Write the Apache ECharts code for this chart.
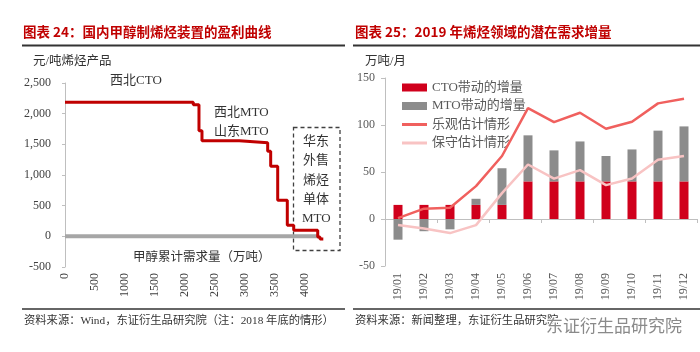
<!DOCTYPE html>
<html>
<head>
<meta charset="utf-8">
<script src="https://cdn.jsdelivr.net/npm/echarts@6/dist/echarts.min.js"></script>
<style>
  html, body { margin: 0; padding: 0; background: #fff; }
  #chart { width: 700px; height: 352px; }
</style>
</head>
<body>
<div id="chart"></div>
<script>
// 左图：甲醇制烯烃盈利曲线（累计需求量 万吨, 盈利 元/吨）
const capacityX = [0, 2138, 2233, 2283, 2905, 3378, 3428, 3545, 3705, 3812, 4212, 4250, 4305];
const profitY = [2185, 2145, 1720, 1557, 1525, 1389, 1144, 588, 180, 98, -11, -44, -44];
const breakEvenX = [0, 4215];

// 右图：2019 年潜在需求增量（万吨/月）
const months = ['19/01', '19/02', '19/03', '19/04', '19/05', '19/06', '19/07', '19/08', '19/09', '19/10', '19/11', '19/12'];
const ctoInc = [15, 15, 15, 15, 15, 40, 40, 40, 40, 40, 40, 40];
const mtoInc = [-22, -13, -11, 6.5, 39, 49, 33, 42.5, 27, 34, 54, 58.5];
const optimistic = [1, 11, 12, 35, 67, 118, 103, 113, 96, 103.5, 123, 128];
const conservative = [-6.5, -10, -15, -6.5, 27.5, 58, 43, 52, 36, 43, 63, 67];

const serif = "'Liberation Serif', 'Noto Sans CJK SC'";
const cjk = "'Noto Sans CJK SC'";
const labelColor = '#404040';
const axisGray = '#bfbfbf';

const chart = echarts.init(document.getElementById('chart'));

function txt(x, y, text, size, extra) {
    return Object.assign({
        type: 'text', left: x, top: y,
        style: { text: text, font: size + 'px ' + serif, fill: '#333' }
    }, extra || {});
}

const option = {
    animation: false,
    grid: [
        { left: 65, top: 83, width: 270, height: 184 },
        { left: 385, top: 78, right: 3, height: 188 }
    ],
    legend: {
        orient: 'vertical',
        left: 397, top: 76,
        itemWidth: 25, itemHeight: 8, itemGap: 5.5,
        textStyle: { fontFamily: serif, fontSize: 13, color: '#595959' },
        data: [
            { name: 'CTO带动的增量', icon: 'rect' },
            { name: 'MTO带动的增量', icon: 'rect' },
            { name: '乐观估计情形', icon: 'path://M0,0H10V1.2H0Z' },
            { name: '保守估计情形', icon: 'path://M0,0H10V1.2H0Z' }
        ]
    },
    xAxis: [
        {
            gridIndex: 0, type: 'value', min: 0, max: 4500, interval: 500,
            position: 'bottom',
            axisLine: { show: false, onZero: false }, axisTick: { show: false }, splitLine: { show: false },
            axisLabel: {
                rotate: 90, margin: 6, fontFamily: serif, fontSize: 12, color: labelColor,
                formatter: v => (v > 4000 ? '' : String(v))
            }
        },
        {
            gridIndex: 1, type: 'category', data: months, position: 'bottom',
            axisLine: { show: false, onZero: false }, axisTick: { show: false },
            axisLabel: { rotate: 90, margin: 7, fontFamily: serif, fontSize: 12, color: '#595959' }
        },
        {
            gridIndex: 1, type: 'category', data: months, position: 'top',
            axisLine: { show: true, onZero: true, lineStyle: { color: axisGray } },
            axisTick: { show: true, inside: true, length: 4, lineStyle: { color: axisGray } },
            axisLabel: { show: false }
        }
    ],
    yAxis: [
        {
            gridIndex: 0, type: 'value', min: -500, max: 2500, interval: 500,
            axisLine: { show: true, lineStyle: { color: axisGray } },
            axisTick: { show: true, length: 3, lineStyle: { color: axisGray } },
            splitLine: { show: false },
            axisLabel: {
                margin: 14, fontFamily: serif, fontSize: 12, color: labelColor,
                formatter: v => v.toLocaleString('en-US')
            }
        },
        {
            gridIndex: 1, type: 'value', min: -50, max: 150, interval: 50,
            axisLine: { show: true, lineStyle: { color: axisGray } },
            axisTick: { show: true, length: 4, lineStyle: { color: axisGray } },
            splitLine: { show: false },
            axisLabel: { margin: 10, fontFamily: serif, fontSize: 12, color: '#595959' }
        }
    ],
    series: [
        {
            name: '盈亏平衡', type: 'line', xAxisIndex: 0, yAxisIndex: 0,
            data: breakEvenX.map(x => [x, 0]),
            symbol: 'none', lineStyle: { color: '#a6a6a6', width: 4 }, z: 1
        },
        {
            name: '盈利曲线', type: 'line', xAxisIndex: 0, yAxisIndex: 0,
            data: capacityX.map((x, i) => [x, profitY[i]]),
            step: 'end', symbol: 'none', lineStyle: { color: '#c00000', width: 3 }, z: 3
        },
        {
            name: 'CTO带动的增量', type: 'bar', xAxisIndex: 1, yAxisIndex: 1, stack: 'inc',
            data: ctoInc, barWidth: 9, itemStyle: { color: '#d0001c' }
        },
        {
            name: 'MTO带动的增量', type: 'bar', xAxisIndex: 1, yAxisIndex: 1, stack: 'inc',
            data: mtoInc, barWidth: 9, itemStyle: { color: '#8c8c8c' }
        },
        {
            name: '乐观估计情形', type: 'line', xAxisIndex: 1, yAxisIndex: 1,
            data: optimistic, symbol: 'none',
            lineStyle: { color: '#f0605e', width: 2.5 }, itemStyle: { color: '#f0605e' }, z: 4
        },
        {
            name: '保守估计情形', type: 'line', xAxisIndex: 1, yAxisIndex: 1,
            data: conservative, symbol: 'none',
            lineStyle: { color: '#f8c3c3', width: 2.5 }, itemStyle: { color: '#f8c3c3' }, z: 4
        }
    ],
    graphic: [
        // 标题
        { type: 'text', left: 23, top: 25, style: { text: '图表 24：国内甲醇制烯烃装置的盈利曲线', font: 'bold 13.5px ' + cjk, fill: '#c00000' } },
        { type: 'text', left: 355, top: 25, style: { text: '图表 25：2019 年烯烃领域的潜在需求增量', font: 'bold 13.5px ' + cjk, fill: '#c00000' } },
        { type: 'line', shape: { x1: 22, y1: 45.5, x2: 345, y2: 45.5 }, style: { stroke: '#333', lineWidth: 2 } },
        { type: 'line', shape: { x1: 353, y1: 45.5, x2: 700, y2: 45.5 }, style: { stroke: '#333', lineWidth: 2 } },
        // 轴名称
        txt(33, 55, '元/吨烯烃产品', 12.5),
        txt(365, 55, '万吨/月', 12.5),
        // 左图标注
        txt(110, 74, '西北CTO', 13),
        txt(214, 106, '西北MTO', 13),
        txt(214, 125, '山东MTO', 13),
        txt(133, 251, '甲醇累计需求量（万吨）', 12.5),
        {
            type: 'rect', shape: { x: 293.5, y: 127.5, width: 46.5, height: 123 },
            style: { fill: 'none', stroke: '#404040', lineWidth: 1.3, lineDash: [4, 3] }
        },
        txt(303, 135, '华东', 13),
        txt(303, 154, '外售', 13),
        txt(303, 174, '烯烃', 13),
        txt(303, 193, '单体', 13),
        txt(302, 212, 'MTO', 13),
        // 来源
        { type: 'line', shape: { x1: 22, y1: 309, x2: 345, y2: 309 }, style: { stroke: '#333', lineWidth: 1.5 } },
        { type: 'line', shape: { x1: 353, y1: 309, x2: 700, y2: 309 }, style: { stroke: '#333', lineWidth: 1.5 } },
        txt(24, 315, '资料来源：Wind，东证衍生品研究院（注：2018 年底的情形）', 11.3),
        txt(355, 315, '资料来源：新闻整理，东证衍生品研究院', 11.3),
        {
            type: 'text', left: 545, top: 316, z: 10,
            style: { text: '东证衍生品研究院', font: '17px ' + cjk, fill: '#8a8a8a', stroke: '#fff', lineWidth: 2 }
        }
    ]
};

chart.setOption(option);
</script>
</body>
</html>
